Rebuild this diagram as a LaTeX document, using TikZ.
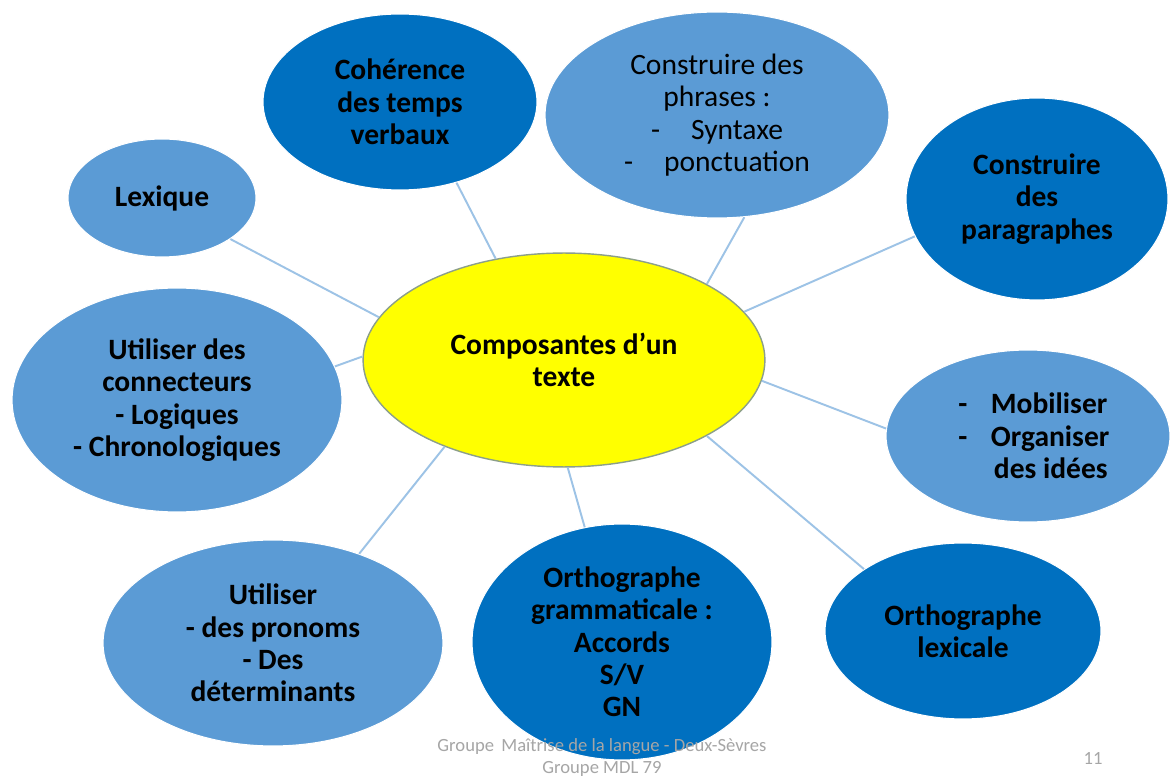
\documentclass[tikz,border=0pt]{standalone}
\usepackage{fontspec}
\setmainfont{Carlito}
\usetikzlibrary{shapes.geometric}
\definecolor{darkb}{HTML}{0070C0}
\definecolor{lightb}{HTML}{5B9BD5}
\definecolor{linkc}{HTML}{9DC3E6}
\definecolor{yel}{HTML}{FFFF00}
\definecolor{yelborder}{HTML}{8C9F8A}
\definecolor{footc}{HTML}{A6A6A6}
\tikzset{
  bub/.style={ellipse, inner sep=0pt, align=center, text=black,
    font=\fontsize{16.8}{18.4}\selectfont\bfseries, draw=white, line width=0.6pt},
  sz/.style 2 args={minimum width=#1*0.04cm, minimum height=#2*0.04cm},
  dark/.style={bub, fill=darkb},
  light/.style={bub, fill=lightb},
  link/.style={draw=linkc, line width=1.1pt},
  foot/.style={text=footc, font=\fontsize{10.6}{12}\selectfont, inner sep=0pt}
}
\begin{document}
\begin{tikzpicture}[x=0.02cm, y=-0.02cm]
\useasboundingbox (0,0) rectangle (1170,776);
\fill[white] (0,0) rectangle (1170,776);

\node[bub, sz={201}{107}, fill=yel, draw=yelborder, line width=0.8pt] (c) at (564,360) {Composantes d’un\\texte};

\node[dark, sz={137}{88}] (coh) at (400,102) {Cohérence\\des temps\\verbaux};
\node[light, sz={172}{103}, font=\fontsize{16.8}{18.4}\selectfont] (phr) at (717,115)
  {Construire des\\phrases :\\-\hspace{1.05em}Syntaxe\\-\hspace{1.05em}ponctuation};
\node[light, sz={94}{59}] (lex) at (162,198) {Lexique};
\node[dark, sz={131}{101}] (par) at (1037,199) {Construire\\des\\paragraphes};
\node[light, sz={165}{112}] (con) at (177,400) {Utiliser des\\connecteurs\\- Logiques\\- Chronologiques};
\node[light, sz={142}{86}, align=left] (mob) at (1028,436)
  {\hspace*{0.4em}\makebox[1.1em][l]{-}Mobiliser\\\hspace*{0.4em}\makebox[1.1em][l]{-}Organiser\\\hspace*{0.4em}\hspace{1.2em}des idées};
\node[light, sz={170}{103}] (pro) at (273,643) {Utiliser\\- des pronoms\\- Des\\déterminants};
\node[dark, sz={150}{118}] (ogr) at (622,642) {Orthographe\\grammaticale :\\Accords\\S/V\\GN};
\node[dark, sz={138}{88}] (olx) at (963,631) {Orthographe\\lexicale};

\draw[link] (c.124) -- (coh.-55);
\draw[link] (c.28) -- (phr.-75);
\draw[link] (c.15.5) -- (par.197);
\draw[link] (c.167) -- (lex.-31);
\draw[link] (c.179) -- (con.12);
\draw[link] (c.-6.5) -- (mob.177);
\draw[link] (c.216) -- (pro.46);
\draw[link] (c.-88) -- (ogr.108);
\draw[link] (c.-28) -- (olx.148);

\node[foot] (f1) at (602,747) {Groupe\, Maîtrise de la langue - Deux-Sèvres};
\node[foot] (f2) at (602,769) {Groupe MDL 79};
\node[foot] (pg) at (1093,759) {11};
\end{tikzpicture}
\end{document}
